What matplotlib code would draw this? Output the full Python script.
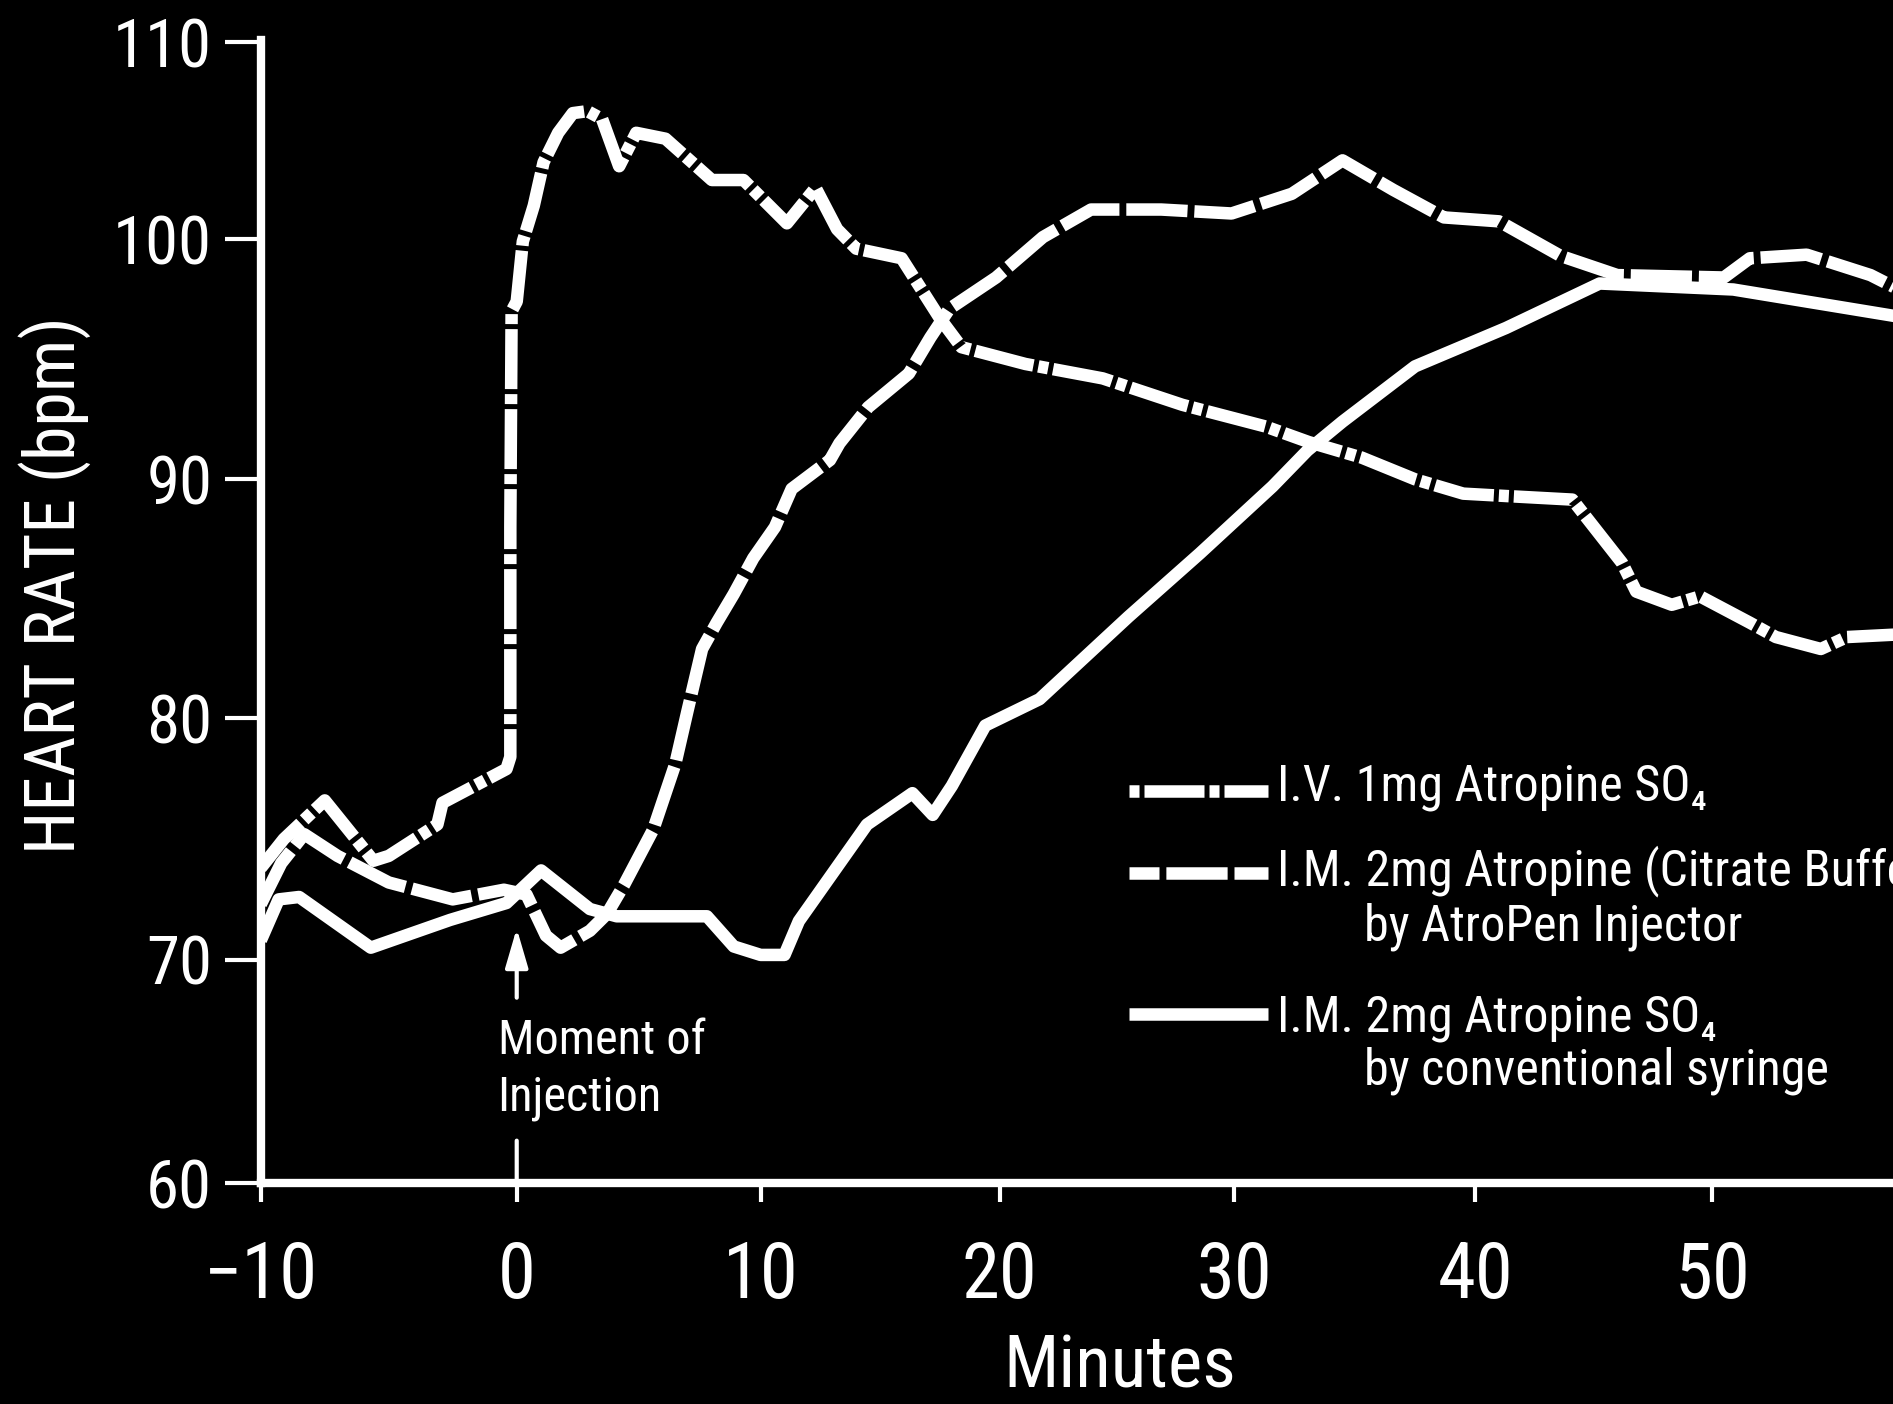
import numpy as np
import matplotlib
matplotlib.use('Agg')
import matplotlib.pyplot as plt
from matplotlib import font_manager

# the original uses a condensed grotesque; take a narrow face when there is one
installed = {f.name for f in font_manager.fontManager.ttflist}
face = 'Liberation Sans'
for name in ['Liberation Sans Narrow', 'DejaVu Sans Condensed', 'Roboto Condensed']:
    if name in installed:
        face = name
        break
plt.rcParams['font.family'] = [face, 'DejaVu Sans']
plt.rcParams['font.stretch'] = 'condensed'

# I.V. 1mg atropine sulfate
iv_min = [-10.0, -9.1, -7.5, -5.6, -5.0, -3.1, -2.9, -0.4, -0.25, -0.25, -0.2, 0.0,
          0.25, 0.7, 1.1, 1.7, 2.3, 2.9, 3.5, 4.2, 4.9, 6.1, 8.0, 9.3, 11.1, 12.3,
          13.2, 14.0, 15.9, 17.5, 18.4, 21.1, 24.4, 27.8, 31.3, 33.1, 35.3, 37.5,
          39.5, 41.3, 44.1, 46.2, 46.8, 48.3, 49.5, 51.6, 52.7, 54.6, 55.7, 57.7]
iv_bpm = [73.8, 75.0, 76.6, 74.1, 74.3, 75.6, 76.5, 77.9, 78.4, 88.0, 97.0, 97.4,
          99.9, 101.7, 103.9, 105.4, 106.4, 106.5, 106.1, 103.7, 105.4, 105.1, 103.0,
          103.0, 100.8, 102.6, 100.5, 99.6, 99.2, 96.7, 95.5, 94.8, 94.2, 93.1, 92.2,
          91.55, 90.9, 90.0, 89.4, 89.3, 89.15, 86.5, 85.3, 84.75, 85.1, 84.0, 83.4,
          82.9, 83.4, 83.5]

# I.M. 2mg atropine, citrate buffer, AtroPen injector
pen_min = [-10.0, -9.2, -8.3, -7.0, -5.0, -2.5, -0.5, 0.4, 1.2, 1.8, 3.0, 3.7, 4.4,
           5.6, 6.5, 7.0, 7.6, 8.2, 8.9, 9.7, 10.6, 11.3, 12.9, 13.3, 14.5, 16.2,
           17.1, 17.9, 19.85, 21.85, 23.9, 26.9, 29.9, 32.4, 34.5, 36.6, 38.7, 41.0,
           43.6, 46.0, 50.5, 51.6, 54.0, 56.7, 57.7]
pen_bpm = [72.3, 74.0, 75.2, 74.3, 73.2, 72.5, 72.9, 72.7, 71.0, 70.5, 71.2, 71.9,
           73.1, 75.4, 78.1, 80.3, 82.9, 84.0, 85.2, 86.7, 88.0, 89.6, 90.8, 91.5,
           93.0, 94.4, 95.9, 97.1, 98.4, 100.1, 101.5, 101.5, 101.3, 102.3, 104.0,
           102.5, 101.1, 100.9, 99.3, 98.5, 98.4, 99.2, 99.35, 98.5, 98.0]

# I.M. 2mg atropine sulfate, conventional syringe
syr_min = [-10.0, -9.3, -8.5, -5.7, -2.6, -0.4, 1.0, 3.0, 4.1, 7.8, 8.9, 10.0, 11.0,
           11.6, 14.45, 16.35, 17.2, 18.0, 19.4, 21.7, 25.5, 28.55, 31.6, 33.05,
           34.5, 37.5, 41.3, 45.25, 50.9, 57.7]
syr_bpm = [70.8, 72.5, 72.6, 70.5, 71.65, 72.35, 73.7, 72.1, 71.8, 71.8, 70.55, 70.2,
           70.2, 71.6, 75.6, 76.9, 76.0, 77.2, 79.7, 80.8, 84.25, 86.9, 89.7, 91.2,
           92.4, 94.7, 96.3, 98.15, 97.9, 96.8]

injection_time = 0

x_ticks = [-10, 0, 10, 20, 30, 40, 50]
y_ticks = [60, 70, 80, 90, 100, 110]

# the printed axes are not evenly spaced: calibrate each tick to where it sits
x_cal_val = np.array([-20, -10, 0, 10, 20, 30, 40, 50, 60, 70])
x_cal_pos = np.array([4, 216, 428, 630, 828, 1022, 1222, 1418, 1614, 1810])
y_cal_val = np.array([50, 60, 70, 80, 90, 100, 110, 120])
y_cal_pos = -np.array([1165, 980, 795, 595, 397, 198, 35, -128])


def fwd_x(v):
    return np.interp(v, x_cal_val, x_cal_pos)


def inv_x(p):
    return np.interp(p, x_cal_pos, x_cal_val)


def fwd_y(v):
    return np.interp(v, y_cal_val, y_cal_pos)


def inv_y(p):
    return np.interp(p, y_cal_pos, y_cal_val)


fig = plt.figure(figsize=(18.93, 14.04), dpi=100, facecolor='black')
renderer = fig.canvas.get_renderer()


def fit_size(s, target_px, cap_pt):
    # split the difference between matching the printed width and the printed height
    t = fig.text(0, 0, s, fontsize=100)
    w = t.get_window_extent(renderer).width
    t.remove()
    return float(np.sqrt(100 * target_px / w * cap_pt))


ytick_fs = fit_size('100', 90, 53)
xtick_fs = fit_size('50', 79, 53)
xlabel_fs = fit_size('Minutes', 228, 54)
ylabel_fs = fit_size('HEART RATE (bpm)', 519, 52)
leg_fs = fit_size('by conventional syringe', 465, 36)
note_fs = fit_size('Moment of', 212, 34)

ax = fig.add_axes([216 / 1568, 1 - 980 / 1163, (1568 - 216) / 1568, (980 - 33.4) / 1163])
ax.set_facecolor('black')
ax.set_xscale('function', functions=(fwd_x, inv_x))
ax.set_yscale('function', functions=(fwd_y, inv_y))

lw = 9
iv_dash = (4.8, 0.4, 0.8, 0.4)
pen_dash = (4.9, 0.55)
ax.plot(iv_min, iv_bpm, color='white', lw=lw, linestyle=(0, iv_dash),
        dash_capstyle='butt', dash_joinstyle='round')
ax.plot(pen_min, pen_bpm, color='white', lw=lw, linestyle=(0, pen_dash),
        dash_capstyle='butt', dash_joinstyle='round')
ax.plot(syr_min, syr_bpm, color='white', lw=lw, solid_joinstyle='round',
        solid_capstyle='butt')

ax.set_xlim(-10, 57.65)
ax.set_ylim(60, 110.1)
ax.set_xticks(x_ticks)
ax.set_yticks(y_ticks)

for side in ['top', 'right']:
    ax.spines[side].set_visible(False)
for side in ['left', 'bottom']:
    ax.spines[side].set_color('white')
    ax.spines[side].set_linewidth(6)
    ax.spines[side].set_capstyle('projecting')

ax.tick_params(axis='y', colors='white', length=26, width=3, pad=9, labelsize=ytick_fs)
ax.tick_params(axis='x', colors='white', length=14, width=3, pad=26, labelsize=xtick_fs)

ax.text(0.526, -0.1616, 'Minutes', transform=ax.transAxes, color='white',
        fontsize=xlabel_fs, ha='center', va='center')
ax.text(-0.1265, 0.5229, 'HEART RATE (bpm)', transform=ax.transAxes, color='white',
        fontsize=ylabel_fs, rotation=90, ha='center', va='center')

# moment of injection marker
ax.annotate('', xy=(injection_time, 71.3), xytext=(injection_time, 68.3),
            arrowprops=dict(arrowstyle='-|>,head_length=1.2,head_width=0.35',
                            color='white', lw=3, shrinkA=0, shrinkB=0, mutation_scale=20))
ax.annotate('', xy=(injection_time, 60), xytext=(injection_time, 61.9),
            arrowprops=dict(arrowstyle='-', color='white', lw=3, shrinkA=0, shrinkB=0))
ax.text(injection_time - 0.75, 67.4, 'Moment of\nInjection', color='white',
        fontsize=note_fs, ha='left', va='top', linespacing=1.3)

# hand-made legend, handle sits on the first line of each entry
hx0, hx1 = 0.5318, 0.6169
tx, tx2 = 0.6228, 0.676
ax.plot([hx0, hx1], [0.3433, 0.3433], transform=ax.transAxes, clip_on=False,
        color='white', lw=lw, linestyle=(5.2, iv_dash), dash_capstyle='butt')
ax.text(tx, 0.3465, 'I.V. 1mg Atropine SO\u2084', transform=ax.transAxes, color='white',
        fontsize=leg_fs, va='center')
ax.plot([hx0, hx1], [0.2715, 0.2715], transform=ax.transAxes, clip_on=False,
        color='white', lw=lw, linestyle=(2.5, pen_dash), dash_capstyle='butt')
ax.text(tx, 0.2726, 'I.M. 2mg Atropine (Citrate Buffer)', transform=ax.transAxes,
        color='white', fontsize=leg_fs, va='center')
ax.text(tx2, 0.224, 'by AtroPen Injector', transform=ax.transAxes, color='white',
        fontsize=leg_fs, va='center')
ax.plot([hx0, hx1], [0.1479, 0.1479], transform=ax.transAxes, clip_on=False,
        color='white', lw=lw, solid_capstyle='butt')
ax.text(tx, 0.1447, 'I.M. 2mg Atropine SO\u2084', transform=ax.transAxes, color='white',
        fontsize=leg_fs, va='center')
ax.text(tx2, 0.0982, 'by conventional syringe', transform=ax.transAxes, color='white',
        fontsize=leg_fs, va='center')

fig.savefig('out.png', dpi=100, facecolor='black')
